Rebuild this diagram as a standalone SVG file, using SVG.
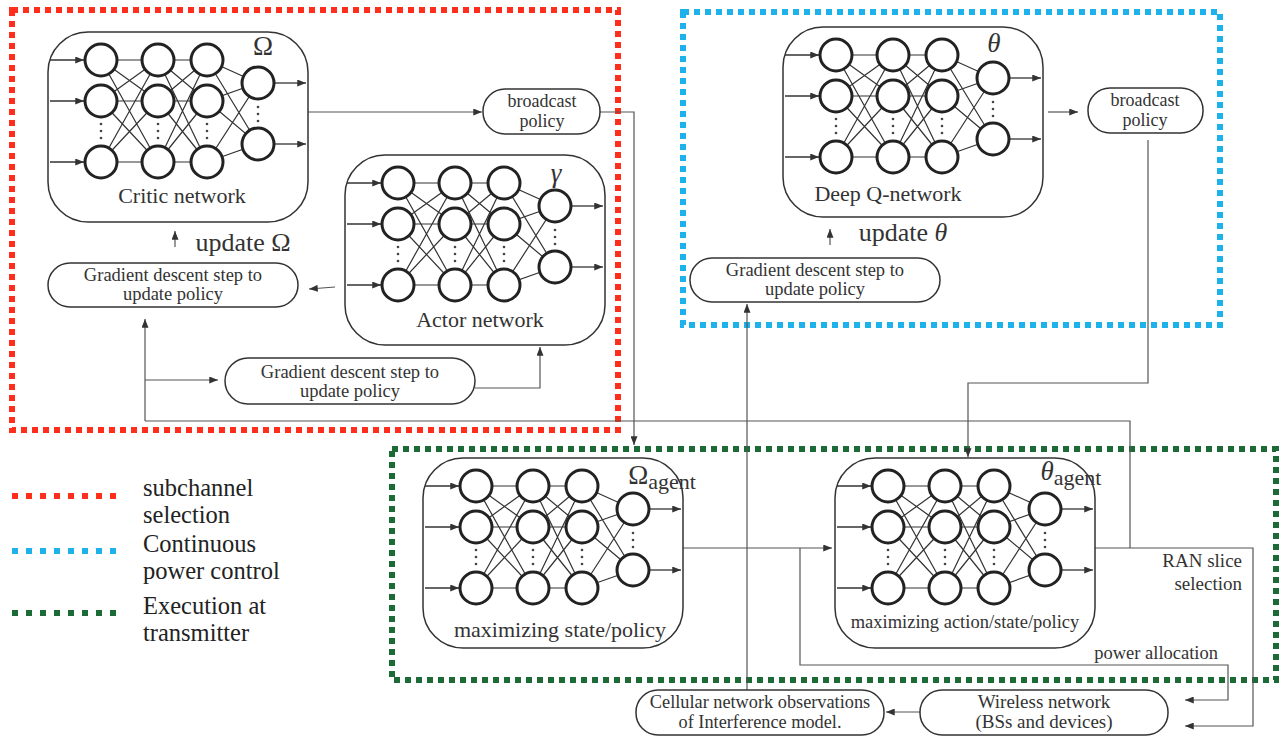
<svg xmlns="http://www.w3.org/2000/svg" xmlns:xlink="http://www.w3.org/1999/xlink" width="1282" height="736" viewBox="0 0 1282 736">
<style>
.box{fill:none;stroke:#333;stroke-width:1.5}
.pill{fill:#fff;stroke:#333;stroke-width:1.5}
.edge{stroke:#333;stroke-width:1.2;fill:none}
.node{fill:#fff;stroke:#222;stroke-width:3}
.io{stroke:#333;stroke-width:1.3;fill:none;marker-end:url(#ah)}
.con{stroke:#555;stroke-width:1.2;fill:none}
.arr{stroke:#555;stroke-width:1.2;fill:none;marker-end:url(#ah)}
.dot{fill:#444}
.t{font-family:"Liberation Serif","Times New Roman","DejaVu Serif",serif;fill:#333;text-anchor:middle}
.r{text-anchor:end}
.lg{font-family:"Liberation Serif","Times New Roman","DejaVu Serif",serif;fill:#222;font-size:24.5px}
</style>
<defs>
<marker id="ah" viewBox="0 0 10 8" refX="10" refY="4" markerWidth="9" markerHeight="7" markerUnits="userSpaceOnUse" orient="auto">
<path d="M0,0 L10,4 L0,8 z" fill="#333"/>
</marker>
<g id="net">
<rect class="box" x="0" y="0" width="260" height="190" rx="40"/>
<g class="edge">
<path d="M53,28 L110,28 M53,28 L110,69 M53,28 L110,130 M53,69 L110,28 M53,69 L110,69 M53,69 L110,130 M53,130 L110,28 M53,130 L110,69 M53,130 L110,130"/>
<path d="M110,28 L159,28 M110,28 L159,69 M110,28 L159,130 M110,69 L159,28 M110,69 L159,69 M110,69 L159,130 M110,130 L159,28 M110,130 L159,69 M110,130 L159,130"/>
<path d="M159,28 L210,51 M159,28 L210,112 M159,69 L210,51 M159,69 L210,112 M159,130 L210,51 M159,130 L210,112"/>
</g>
<path class="io" d="M2,28 H36"/>
<path class="io" d="M2,69 H36"/>
<path class="io" d="M2,130 H36"/>
<path class="io" d="M226,51 H258"/>
<path class="io" d="M226,112 H258"/>
<g class="node">
<circle cx="53" cy="28" r="16"/><circle cx="53" cy="69" r="16"/><circle cx="53" cy="130" r="16"/>
<circle cx="110" cy="28" r="16"/><circle cx="110" cy="69" r="16"/><circle cx="110" cy="130" r="16"/>
<circle cx="159" cy="28" r="16"/><circle cx="159" cy="69" r="16"/><circle cx="159" cy="130" r="16"/>
<circle cx="210" cy="51" r="16"/><circle cx="210" cy="112" r="16"/>
</g>
<g class="dot">
<circle cx="53" cy="92" r="1.3"/><circle cx="53" cy="99" r="1.3"/><circle cx="53" cy="106" r="1.3"/>
<circle cx="110" cy="92" r="1.3"/><circle cx="110" cy="99" r="1.3"/><circle cx="110" cy="106" r="1.3"/>
<circle cx="159" cy="92" r="1.3"/><circle cx="159" cy="99" r="1.3"/><circle cx="159" cy="106" r="1.3"/>
<circle cx="210" cy="75" r="1.3"/><circle cx="210" cy="82" r="1.3"/><circle cx="210" cy="89" r="1.3"/>
</g>
</g>
</defs>
<rect width="1282" height="736" fill="#fff"/>

<g id="regions" fill="none" stroke-width="6" stroke-dasharray="6 5">
<rect x="12" y="10" width="606" height="420" stroke="#ff2d1c"/>
<rect x="683" y="12" width="537" height="313" stroke="#1db3ea"/>
<rect x="392" y="449" width="884" height="231" stroke="#1c6b36"/>
</g>

<g id="connectors">
<path class="arr" d="M308,112 H482"/>
<path class="arr" d="M600,112 H634 V445"/>
<path class="arr" d="M335,287 L309,289"/>
<path class="arr" d="M175,247 V231"/>
<path class="arr" d="M145,421 V319"/>
<path class="arr" d="M145,380 H218"/>
<path class="arr" d="M475,388 H540 V347"/>
<path class="con" d="M145,421 H1130 V548"/>
<path class="arr" d="M1048,112 H1078"/>
<path class="arr" d="M1148,140 V383 H968 V457"/>
<path class="arr" d="M830,245 V229"/>
<path class="arr" d="M683,548 H832"/>
<path class="arr" d="M800,548 V665 H1228 V700 H1185"/>
<path class="arr" d="M1095,548 H1253 V726 H1185"/>
<path class="arr" d="M920,712 H886"/>
<path class="arr" d="M747,690 V304"/>
</g>

<g id="critic">
<use xlink:href="#net" href="#net" x="48" y="32"/>
<text class="t" x="182" y="203" font-size="22">Critic network</text>
<text class="t" x="263" y="55" font-size="27">Ω</text>
</g>

<g id="actor">
<use xlink:href="#net" href="#net" x="345" y="155"/>
<text class="t" x="480" y="327" font-size="22">Actor network</text>
<text class="t" x="556" y="182" font-size="27" font-style="italic">γ</text>
</g>

<g id="update-omega">
<text class="t" x="243" y="251" font-size="26">update Ω</text>
</g>

<g id="broadcast1">
<rect class="pill" x="483" y="89" width="117" height="45" rx="22"/>
<text class="t" x="542" y="107" font-size="18">broadcast</text>
<text class="t" x="542" y="127" font-size="18">policy</text>
</g>

<g id="grad1">
<rect class="pill" x="48" y="263" width="250" height="44" rx="22"/>
<text class="t" x="173" y="281" font-size="18.5">Gradient descent step to</text>
<text class="t" x="173" y="300" font-size="18.5">update policy</text>
</g>

<g id="grad2">
<rect class="pill" x="225" y="358" width="250" height="46" rx="23"/>
<text class="t" x="350" y="378" font-size="18.5">Gradient descent step to</text>
<text class="t" x="350" y="397" font-size="18.5">update policy</text>
</g>

<g id="dqn">
<use xlink:href="#net" href="#net" x="783" y="27"/>
<text class="t" x="888" y="201" font-size="22">Deep Q-network</text>
<text class="t" x="994" y="52" font-size="27" font-style="italic">θ</text>
</g>

<g id="update-theta">
<text class="t" x="903" y="241" font-size="26">update <tspan font-style="italic">θ</tspan></text>
</g>

<g id="broadcast2">
<rect class="pill" x="1088" y="88" width="115" height="45" rx="22"/>
<text class="t" x="1145" y="106" font-size="18">broadcast</text>
<text class="t" x="1145" y="126" font-size="18">policy</text>
</g>

<g id="grad3">
<rect class="pill" x="690" y="258" width="250" height="44" rx="22"/>
<text class="t" x="815" y="276" font-size="18.5">Gradient descent step to</text>
<text class="t" x="815" y="295" font-size="18.5">update policy</text>
</g>

<g id="omega-agent">
<use xlink:href="#net" href="#net" x="423" y="458"/>
<text class="t" x="560" y="637" font-size="22">maximizing state/policy</text>
<text class="t" x="662" y="484" font-size="27">Ω<tspan font-size="22" dy="5">agent</tspan></text>
</g>

<g id="theta-agent">
<use xlink:href="#net" href="#net" x="835" y="458"/>
<text class="t" x="965" y="628" font-size="18.5">maximizing action/state/policy</text>
<text class="t" x="1071" y="480" font-size="27"><tspan font-style="italic">θ</tspan><tspan font-size="22" dy="5">agent</tspan></text>
</g>

<g id="labels">
<text class="t r" x="1242" y="567" font-size="19">RAN slice</text>
<text class="t r" x="1242" y="590" font-size="19">selection</text>
<text class="t r" x="1218" y="659" font-size="18.5">power allocation</text>
</g>

<g id="wireless">
<rect class="pill" x="920" y="690" width="248" height="45" rx="22"/>
<text class="t" x="1044" y="708" font-size="19">Wireless network</text>
<text class="t" x="1044" y="728" font-size="19">(BSs and devices)</text>
</g>

<g id="cellular">
<rect class="pill" x="636" y="690" width="248" height="45" rx="22"/>
<text class="t" x="760" y="708" font-size="18.3">Cellular network observations</text>
<text class="t" x="760" y="728" font-size="18.3">of Interference model.</text>
</g>

<g id="legend">
<g stroke-width="6" stroke-dasharray="6 8" fill="none">
<path d="M12,496 H124" stroke="#ff2d1c"/>
<path d="M12,551 H124" stroke="#1db3ea"/>
<path d="M12,613 H124" stroke="#1c6b36"/>
</g>
<text class="lg" x="143" y="496">subchannel</text>
<text class="lg" x="143" y="523">selection</text>
<text class="lg" x="143" y="552">Continuous</text>
<text class="lg" x="143" y="579">power control</text>
<text class="lg" x="143" y="614">Execution at</text>
<text class="lg" x="143" y="641">transmitter</text>
</g>
</svg>
